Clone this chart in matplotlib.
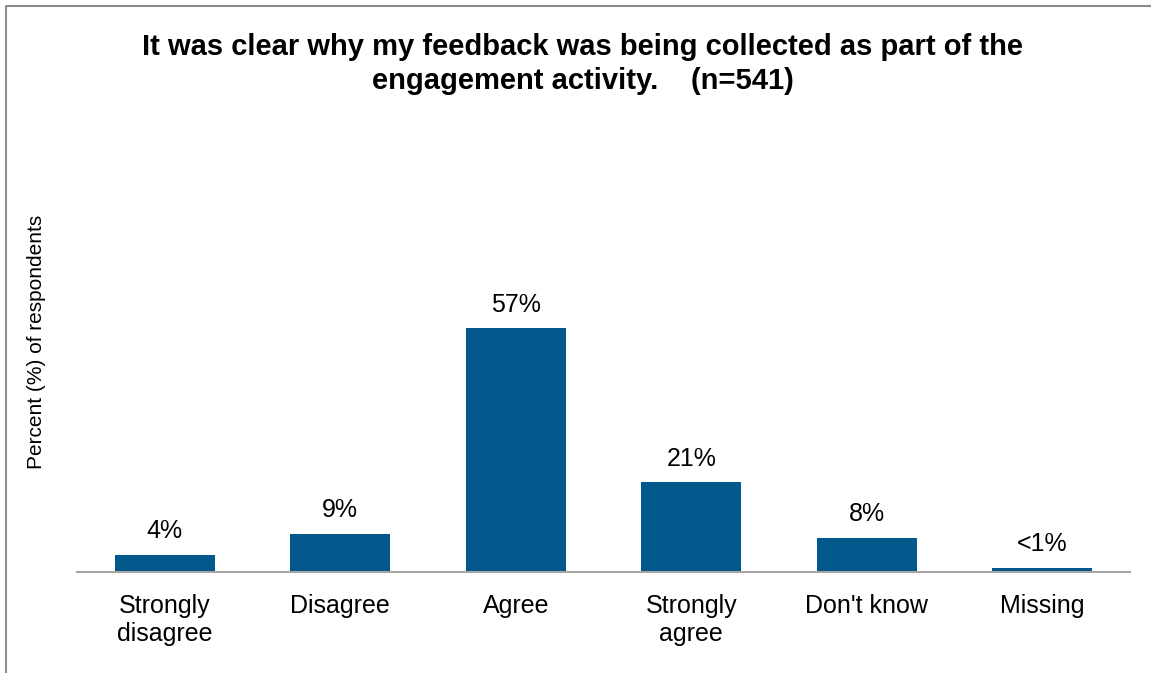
import matplotlib
matplotlib.use("Agg")
import matplotlib.pyplot as plt
from matplotlib.lines import Line2D

plt.rcParams['font.family'] = ['Liberation Sans', 'DejaVu Sans']

categories = ["Strongly\ndisagree", "Disagree", "Agree", "Strongly\nagree", "Don't know", "Missing"]
percents = [4, 9, 57, 21, 8, 0.9]
labels = ["4%", "9%", "57%", "21%", "8%", "<1%"]

W, H = 1151, 673
fig = plt.figure(figsize=(W / 100, H / 100), dpi=100)
ax = fig.add_axes([77 / W, 1 - 572 / H, (1130 - 77) / W, (572 - 110) / H])

x = range(len(categories))
bars = ax.bar(x, percents, width=0.57, color="#02578B")
for b, lab in zip(bars, labels):
    ax.annotate(lab, (b.get_x() + b.get_width() / 2, b.get_height()),
                xytext=(0, 12), textcoords="offset points",
                ha="center", va="baseline", fontsize=18)

ax.set_xlim(-0.5, len(categories) - 0.5)
ax.set_ylim(0, 108)
ax.set_xticks(list(x))
ax.set_xticklabels(categories, fontsize=18, linespacing=1.2)
ax.tick_params(axis="x", length=0, pad=16)
ax.set_yticks([])
for s in ["top", "right", "left"]:
    ax.spines[s].set_visible(False)
ax.spines["bottom"].set_color("#A6A6A6")
ax.spines["bottom"].set_linewidth(1.5)

fig.text(37 / W, 1 - 342 / H, "Percent (%) of respondents", rotation=90,
         ha="center", va="center", fontsize=15)
fig.text(583 / W, 1 - 64 / H,
         "It was clear why my feedback was being collected as part of the\nengagement activity.    (n=541)",
         ha="center", va="center", fontsize=21, fontweight="bold", linespacing=1.3)

# outer frame (left and top edges)
fig.add_artist(Line2D([6 / W, 6 / W, 1], [0, 1 - 6 / H, 1 - 6 / H],
                      transform=fig.transFigure, color="#8C8C8C", linewidth=1.5))

fig.savefig("out.png", dpi=100)
